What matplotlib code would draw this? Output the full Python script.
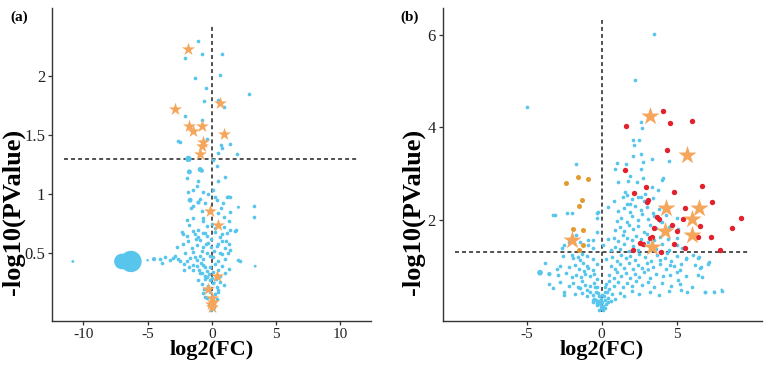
import matplotlib
matplotlib.use("Agg")
import matplotlib.pyplot as plt
import numpy as np

plt.rcParams['font.family'] = ['Liberation Serif', 'DejaVu Serif']

# ---------------- Panel (a) data ----------------
a_dot_x = [-1.04, -2.08, -0.78, 0.78, -1.30, 0.65, 2.93, -0.44, -0.60, 0.52, 0.96, -2.06, -0.78,
           -2.65, -2.50, 1.43, 0.78, 0.70, 1.95, 0.39, 0.47, -0.39, 0.13,
           -1.95, -1.04, -1.17, 1.04, 0.52, -1.43, -1.82, -0.65, 0.08, 0.26, 1.17, 1.40, -0.52, 0.73,
           -1.43, -0.78, 0.52, 0.91, 1.43, -1.43, -1.95, -0.65, 1.30, -0.39, -1.75, 1.43, 1.89, -1.04,
           0.26, -1.30, -2.21, -0.52, 0.78, 3.25, 3.30, 2.20,
           -2.34, -1.95, -1.43, -1.04, -0.65, -0.39, 0.26, 0.65, 1.17, 1.82,
           -2.73, -2.21, -1.82, -1.56, -1.17, -0.91, -0.65, -0.26, 0.39, 0.78, 1.04, 1.30, 1.43,
           -4.03, -3.64, -3.25, -2.86, -2.47, -2.08, -1.69, -1.43, -1.17, -0.91, -0.65, -0.39, 0.13,
           0.52, 0.78, 1.04, 2.07, -3.90, -3.00, -2.60, -2.20, -1.90, -1.50,
           -1.43, -1.17, -0.91, -0.65, -0.39, -0.13, 0.26, 0.52, 0.78, 1.04, 1.30, -2.20, -1.80,
           -0.50, -0.20, 0.10, 0.60,
           -1.04, -0.78, -0.52, -0.26, -0.13, 0.13, 0.39, 0.65, 0.91, -0.60, 0.00, 0.50, -0.35,
           -0.65, -0.39, -0.13, 0.13, 0.26, 0.39, -0.25, 0.05, 0.50, -0.50, -0.05, 0.15,
           -0.20, -0.10, 0.05, -0.05, 0.15, -0.15, -0.80, -1.20, -0.70, 0.40, 0.90, 1.10, 1.25, 0.95,
           -1.60, -0.95, -0.30, -0.45, -0.85, -0.55, 0.35, -0.75, 0.45, 0.65, -1.30, -1.00]
a_dot_y = [2.30, 2.16, 2.19, 2.19, 1.99, 2.01, 1.85, 1.90, 1.79, 1.80, 1.74, 1.66, 1.63,
           1.45, 1.44, 1.43, 1.39, 1.42, 1.34, 1.24, 1.35, 1.47, 1.29,
           1.14, 1.11, 1.07, 1.15, 1.11, 1.04, 1.02, 1.02, 1.04, 0.98, 0.98, 0.98, 0.93, 0.88,
           0.90, 0.86, 0.84, 0.81, 0.85, 0.80, 0.78, 0.77, 0.77, 0.73, 0.74, 0.70, 0.70, 0.70,
           0.71, 0.66, 0.66, 0.67, 0.66, 0.90, 0.81, 0.43,
           0.68, 0.65, 0.69, 0.64, 0.67, 0.65, 0.68, 0.64, 0.67, 0.69,
           0.55, 0.58, 0.60, 0.54, 0.57, 0.61, 0.55, 0.59, 0.56, 0.60, 0.54, 0.58, 0.53,
           0.45, 0.47, 0.44, 0.48, 0.43, 0.50, 0.46, 0.51, 0.44, 0.48, 0.45, 0.50, 0.47,
           0.43, 0.49, 0.45, 0.44, 0.42, 0.46, 0.45, 0.41, 0.43, 0.40,
           0.36, 0.39, 0.33, 0.40, 0.35, 0.38, 0.41, 0.36, 0.39, 0.33, 0.37, 0.36, 0.38,
           0.31, 0.32, 0.34, 0.31,
           0.27, 0.24, 0.28, 0.22, 0.27, 0.25, 0.21, 0.26, 0.23, 0.20, 0.29, 0.19, 0.30,
           0.16, 0.12, 0.17, 0.09, 0.15, 0.11, 0.06, 0.14, 0.17, 0.13, 0.02, 0.04,
           0.85, 0.62, 0.75, 0.55, 0.52, 0.48, 0.52, 0.62, 0.80, 0.95, 0.93, 0.60, 0.50, 0.72,
           0.88, 0.96, 1.00, 0.58, 0.42, 0.38, 0.28, 0.33, 0.58, 0.50, 0.47, 0.36]

# larger circles in (a): position and relative abundance
a_circ_x = [-1.82, -1.75, -0.91, -0.78, -1.69, -1.04, 2.07, 1.30, 3.38, -4.50, -5.00, -10.83, -7.00, -6.30, -0.30, 0.20]
a_circ_y = [1.30, 1.19, 1.21, 1.20, 0.95, 0.93, 0.89, 0.98, 0.39, 0.45, 0.44, 0.43, 0.43, 0.43, 0.22, 0.25]
a_circ_w = [4.5, 3.5, 3.5, 3.0, 3.5, 3.0, 2.2, 2.0, 2.0, 3.0, 1.8, 2.0, 11, 15, 1.8, 1.8]

a_star_x = [-1.82, -2.86, 0.60, -1.74, -1.43, -0.73, 0.96, -0.65, -0.73, -0.91, -0.18, 0.52,
            0.39, -0.26, 0.00, -0.08, 0.08, 0.03]
a_star_y = [2.23, 1.72, 1.77, 1.58, 1.54, 1.58, 1.51, 1.44, 1.41, 1.34, 0.86, 0.74,
            0.31, 0.20, 0.12, 0.07, 0.09, 0.04]

a_xticks = [-10, -5, 0, 5, 10]
a_yticks = [0.5, 1, 1.5, 2]

# ---------------- Panel (b) data ----------------
b_dot_x = [3.49, 2.22, -5.00, 2.62, 2.71, 2.10, 2.50, 2.17, 2.10, 2.62, 2.78, 3.33, 4.50, 1.00, 1.62,
           0.89, 2.62, 1.89, 1.78, 1.07, 2.37, 4.00, 4.10, 2.78, 3.78, 1.55, 1.71, 3.33, 2.44, 2.62,
           1.67, 1.89, 2.84, -1.73, -3.22, -0.22, 0.40,
           5.33, 6.44, 6.60, 6.67, 7.18, 6.89, 7.51, 8.00,
           0.6, 0.9, 1.2, 1.5, 1.8, 2.1, 2.4, 2.8, 3.1, 3.6, 4.0, 4.5, 5.0,
           0.4, 0.8, 1.1, 1.4, 1.7, 2.0, 2.3, 2.6, 3.0, 3.5, 3.9, 4.4, 5.0,
           0.9, 1.2, 1.5, 1.8, 2.1, 2.4, 2.8, 3.2, 3.6, 4.0, 4.5, 5.1,
           1.0, 1.3, 1.7, 2.0, 2.4, 2.7, 3.1, 3.5, 3.9, 4.3, 5.0,
           1.1, 1.5, 1.9, 2.2, 2.6, 3.0, 3.4, 3.8,
           0.8, 1.4, 2.0, 2.9, 3.4,
           -3.11, -2.33, -2.00, -0.33, -0.33, -0.89, -0.60, -2.67, -1.45, -0.89, -0.60, -2.20, -0.30,
           0.10, -1.70, -2.50,
           -3.78, -2.78, -1.89, -1.45, -1.22, -1.00, -3.22, -2.51, -2.00, -1.45, -1.00, -0.56, -0.33,
           -2.6, -2.0, -1.6, -1.3, -1.0, -0.6, -0.3,
           -3.0, -2.2, -1.8, -1.5, -1.2, -0.9, -0.6,
           -2.9, -2.4, -1.7, -1.4, -1.1, -0.8, -0.5, -0.3,
           -3.5, -2.8, -2.2, -1.9, -1.6, -1.3, -1.1, -0.8, -0.5, -0.3,
           -2.5, -1.8, -1.3, -1.0, -0.8, -0.6, -0.4, -0.2,
           -0.6, -0.4, -0.3, -0.2, -0.1, 0.0, -0.15, 0.1, 0.05, -0.05,
           0.2, 0.3, 0.4, 0.6, 0.7, 0.9, 0.2, 0.5,
           1.2, 1.5, 2.0, 2.5, 3.2, 3.8, 4.5, 5.27, 5.67, 6.89,
           0.3, 0.5, 0.8, 1.1, 1.4, 1.7, 2.0, 2.3, 2.7, 3.1, 3.5, 4.0, 4.6, 5.2, 6.0,
           0.5, 0.8, 1.0, 1.3, 1.6, 1.9, 2.2, 2.5, 2.8, 3.2, 3.6, 4.1, 4.55, 5.0, 5.11, 5.6, 6.4,
           0.6, 0.9, 1.2, 1.5, 1.8, 2.1, 2.4, 2.7, 3.0, 3.4, 3.9, 4.3, 4.55, 4.8, 5.22, 5.3, 6.2, 6.55, 7.1,
           0.3, 0.7, 1.0, 1.3, 1.6, 1.9, 2.2, 2.5, 2.9, 3.3, 3.7, 3.89, 4.2, 4.33, 4.6, 5.0, 5.6, 6.1, 6.5,
           0.15, 0.35, -0.45, 0.25, -0.25, 0.45, -0.5, 0.0, 0.1, -0.05, 0.2]
b_dot_y = [6.02, 5.03, 4.44, 4.12, 3.98, 3.73, 3.73, 3.61, 3.38, 3.42, 3.26, 3.31, 3.28, 3.23, 3.21,
           3.10, 3.10, 2.94, 2.85, 2.81, 2.83, 2.86, 2.90, 2.90, 2.65, 2.61, 2.54, 2.72, 2.49, 2.49,
           2.35, 2.35, 2.42, 3.20, 2.11, 2.18, 2.27,
           1.40, 1.17, 0.99, 0.76, 1.10, 0.45, 0.45, 0.47,
           1.35, 1.42, 1.38, 1.47, 1.33, 1.44, 1.36, 1.45, 1.52, 1.37, 1.48, 1.35, 1.45,
           1.58, 1.62, 1.55, 1.68, 1.60, 1.57, 1.66, 1.59, 1.70, 1.56, 1.64, 1.58, 1.62,
           1.78, 1.84, 1.76, 1.88, 1.80, 1.86, 1.75, 1.90, 1.82, 1.95, 1.85, 1.80,
           1.98, 2.05, 1.96, 2.08, 2.00, 2.12, 2.02, 2.09, 1.98, 2.10, 2.05,
           2.20, 2.26, 2.18, 2.30, 2.22, 2.28, 2.16, 2.24,
           2.42, 2.50, 2.45, 2.55, 2.47,
           2.11, 2.14, 2.16, 2.16, 2.04, 1.57, 1.57, 1.39, 1.53, 1.46, 1.40, 1.52, 1.75,
           1.45, 1.68, 1.45,
           1.08, 1.01, 1.17, 1.14, 1.06, 1.00, 0.52, 0.38, 0.77, 0.52, 0.49, 0.27, 0.16,
           1.22, 1.25, 1.20, 1.27, 1.22, 1.15, 1.05,
           0.95, 0.98, 1.02, 0.95, 0.90, 0.97, 0.92,
           0.80, 0.85, 0.82, 0.76, 0.84, 0.78, 0.83, 0.72,
           0.62, 0.66, 0.58, 0.63, 0.55, 0.68, 0.60, 0.57, 0.64, 0.55,
           0.45, 0.40, 0.42, 0.35, 0.44, 0.38, 0.45, 0.35,
           0.22, 0.28, 0.20, 0.25, 0.18, 0.10, 0.05, 0.14, 0.22, 0.30,
           0.28, 0.18, 0.32, 0.25, 0.40, 0.30, 0.45, 0.50,
           0.42, 0.35, 0.46, 0.40, 0.44, 0.38, 0.47, 0.49, 0.45, 0.45,
           0.62, 0.68, 0.58, 0.66, 0.55, 0.63, 0.57, 0.68, 0.60, 0.66, 0.56, 0.64, 0.58, 0.62, 0.55,
           0.82, 0.75, 0.88, 0.78, 0.85, 0.74, 0.83, 0.77, 0.88, 0.75, 0.84, 0.78, 0.81, 0.87, 0.70, 0.78, 0.80,
           1.00, 0.95, 1.05, 0.97, 1.08, 0.94, 1.02, 0.96, 1.07, 0.98, 1.04, 0.95, 1.03, 1.00, 0.92, 1.05, 1.02, 0.96, 1.05,
           1.15, 1.20, 1.12, 1.25, 1.17, 1.22, 1.14, 1.27, 1.19, 1.12, 1.24, 1.14, 1.18, 1.28, 1.12, 1.22, 1.15, 1.25, 1.20,
           0.35, 0.45, 0.55, 0.55, 0.42, 0.22, 0.30, 0.38, 0.05, 0.12, 0.10]

b_circ_x = [-4.11, -3.49, 5.67, 3.11, -1.44, 7.50, 8.00]
b_circ_y = [0.86, 0.83, 1.17, 0.92, 0.52, 0.45, 0.49]
b_circ_w = [4.0, 3.0, 2.5, 2.5, 2.5, 1.8, 1.8]

b_red_x = [4.07, 6.04, 4.56, 1.60, 4.38, 1.56, 6.67, 4.82, 2.93, 2.16, 3.07, 3.00, 7.38, 5.56, 3.67,
           3.84, 5.44, 9.29, 4.67, 5.04, 3.49, 6.56, 8.67, 6.44, 7.29, 3.38, 4.82, 5.56, 2.58, 2.76,
           2.11, 7.89, 3.96, 3.20]
b_red_y = [4.36, 4.14, 4.10, 4.02, 3.51, 3.08, 2.74, 2.60, 2.71, 2.59, 2.43, 2.38, 2.38, 2.25, 2.06,
           2.02, 2.02, 2.04, 1.88, 1.77, 1.82, 1.86, 1.83, 1.63, 1.63, 1.63, 1.47, 1.40, 1.50, 1.48,
           1.35, 1.34, 1.30, 1.60]

b_org_x = [-2.40, -1.56, -0.89, -1.33, -1.49, -1.89, -1.27, -1.22, -1.51]
b_org_y = [2.79, 2.92, 2.89, 2.43, 2.30, 1.80, 1.78, 1.45, 1.34]

b_star_x = [3.22, 5.71, 4.27, 6.49, 6.04, 4.22, 6.00, -2.00, 3.38]
b_star_y = [4.25, 3.41, 2.25, 2.25, 2.02, 1.76, 1.68, 1.57, 1.41]

b_xticks = [-5, 0, 5]
b_yticks = [2, 4, 6]

p_threshold = 0.05

# ---------------- styling ----------------
BLUE = '#58C6EC'
STAR = '#F5A65B'
RED = '#E3202D'
ORG = '#E49A2E'
AX = '#333333'

W, H = 767, 367
fig = plt.figure(figsize=(W / 100, H / 100), dpi=100)


def make_axes(left_px, right_px):
    ax = fig.add_axes([left_px / W, 1 - 321 / H, (right_px - left_px) / W, (321 - 8) / H])
    for s in ['top', 'right']:
        ax.spines[s].set_visible(False)
    for s in ['left', 'bottom']:
        ax.spines[s].set_color(AX)
        ax.spines[s].set_linewidth(1.0)
    ax.tick_params(direction='out', length=3, width=0.9, color=AX, labelcolor='#222222', pad=2)
    return ax


dash = (0, (2.6, 2.0))
hy = -np.log10(p_threshold)

# Panel a
axa = make_axes(52, 371)
axa.set_xlim(-12.45, 12.4)
axa.set_ylim(-0.075, 2.58)
axa.scatter(a_dot_x, a_dot_y, s=7, c=BLUE, linewidths=0, zorder=2)
axa.scatter(a_circ_x, a_circ_y, s=np.array(a_circ_w) ** 2 * 1.05, c=BLUE, linewidths=0, zorder=2)
axa.scatter(a_star_x, a_star_y, s=95, marker='*', c=STAR, linewidths=0, zorder=3)
axa.plot([-11.5, 11.4], [hy, hy], color='#222222', lw=1.1, ls=dash, zorder=1)
axa.plot([0, 0], [0, 2.44], color='#222222', lw=1.1, ls=dash, zorder=1)
axa.set_xticks(a_xticks)
axa.set_xticklabels([str(t) for t in a_xticks], fontsize=11)
axa.set_yticks(a_yticks)
axa.set_yticklabels([str(t) for t in a_yticks], fontsize=12)

# Panel b
axb = make_axes(442.7, 761.7)
axb.set_xlim(-10.6, 10.67)
axb.set_ylim(-0.184, 6.58)
axb.scatter(b_dot_x, b_dot_y, s=7, c=BLUE, linewidths=0, zorder=2)
axb.scatter(b_circ_x, b_circ_y, s=np.array(b_circ_w) ** 2 * 1.05, c=BLUE, linewidths=0, zorder=2)
axb.scatter(b_org_x, b_org_y, s=13, c=ORG, linewidths=0, zorder=2)
axb.scatter(b_red_x, b_red_y, s=15, c=RED, linewidths=0, zorder=2)
axb.scatter(b_star_x, b_star_y, s=190, marker='*', c=STAR, linewidths=0, zorder=3)
axb.plot([-9.8, 9.9], [hy, hy], color='#222222', lw=1.1, ls=dash, zorder=1)
axb.plot([0, 0], [0, 6.31], color='#222222', lw=1.1, ls=dash, zorder=1)
axb.set_xticks(b_xticks)
axb.set_xticklabels([str(t) for t in b_xticks], fontsize=11)
axb.set_yticks(b_yticks)
axb.set_yticklabels([str(t) for t in b_yticks], fontsize=12)

# labels
for cx, lx, tag, tx in [(211.7, 13, '(a)', 10), (601.7, 413, '(b)', 400)]:
    fig.text(cx / W, 1 - 350 / H, 'log2(FC)', ha='center', va='center', fontsize=16, fontweight='bold')
    fig.text(lx / W, 1 - 212 / H, '-log10(PValue)', ha='center', va='center', rotation=90,
             fontsize=19, fontweight='bold')
    fig.text(tx / W, 1 - 17 / H, tag, ha='left', va='center', fontsize=11, fontweight='bold')

fig.savefig('out.png', dpi=100)
